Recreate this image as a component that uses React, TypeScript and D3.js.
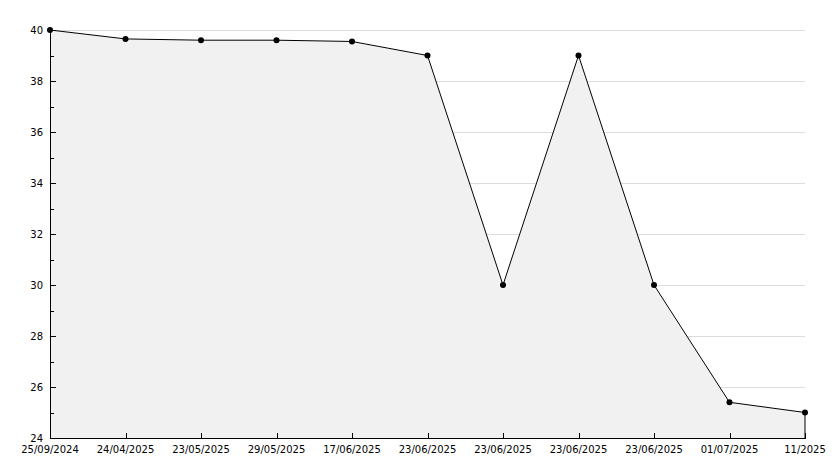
import React from "react";
import * as d3 from "d3";

const categories = [
  "25/09/2024", "24/04/2025", "23/05/2025", "29/05/2025", "17/06/2025",
  "23/06/2025", "23/06/2025", "23/06/2025", "23/06/2025", "01/07/2025", "11/2025",
];
const values = [40, 39.65, 39.6, 39.6, 39.55, 39, 30, 39, 30, 25.4, 25];
const yTicks = [24, 26, 28, 30, 32, 34, 36, 38, 40];
const yMinorTicks = [25, 27, 29, 31, 33, 35, 37, 39];

const W = 834;
const H = 468;
const left = 50;
const right = 805;
const top = 30;
const bottom = 438;

export default function App() {
  const idx = categories.map((_, i) => i);
  const x = d3.scalePoint<number>().domain(idx).range([left, right]);
  const y = d3.scaleLinear().domain([24, 40]).range([bottom, top]);

  const area = d3
    .area<number>()
    .x((_, i) => x(i)!)
    .y0(bottom)
    .y1((d) => y(d));
  const line = d3
    .line<number>()
    .x((_, i) => x(i)!)
    .y((d) => y(d));

  const font = "DejaVu Sans, sans-serif";

  return (
    <svg
      width={W}
      height={H}
      style={{ position: "fixed", left: 0, top: 0, background: "#fff" }}
    >
      {yTicks.map((t) => (
        <line
          key={"g" + t}
          x1={left}
          x2={right}
          y1={Math.round(y(t)) + 0.5}
          y2={Math.round(y(t)) + 0.5}
          stroke="#dcdcdc"
          strokeWidth={1}
        />
      ))}
      <path d={area(values) || ""} fill="#f1f1f1" />
      <line x1={right} x2={right} y1={y(values[values.length - 1])} y2={bottom} stroke="#000" />
      <path d={line(values) || ""} fill="none" stroke="#000" strokeWidth={1} />
      {values.map((v, i) => (
        <g key={"m" + i}>
          <circle cx={x(i)!} cy={y(v)} r={3} fill="#000" />
        </g>
      ))}
      {/* axes */}
      <line x1={left + 0.5} x2={left + 0.5} y1={top} y2={bottom + 1} stroke="#000" />
      <line x1={left} x2={right + 1} y1={bottom + 0.5} y2={bottom + 0.5} stroke="#000" />
      {yTicks.map((t) => (
        <g key={"yt" + t}>
          <line
            x1={left}
            x2={left + 6}
            y1={Math.round(y(t)) + 0.5}
            y2={Math.round(y(t)) + 0.5}
            stroke="#000"
          />
          <text
            x={43}
            y={y(t)}
            dy="0.35em"
            textAnchor="end"
            fontFamily={font}
            fontSize={10}
            fill="#000"
          >
            {t}
          </text>
        </g>
      ))}
      {yMinorTicks.map((t) => (
        <line
          key={"ym" + t}
          x1={left}
          x2={left + 4}
          y1={Math.round(y(t)) + 0.5}
          y2={Math.round(y(t)) + 0.5}
          stroke="#000"
        />
      ))}
      {idx.map((i) => (
        <g key={"xt" + i}>
          {i > 0 && (
            <line
              x1={Math.round(x(i)!) + 0.5}
              x2={Math.round(x(i)!) + 0.5}
              y1={bottom}
              y2={bottom - 5}
              stroke="#000"
            />
          )}
          <text
            x={x(i)!}
            y={453}
            textAnchor="middle"
            fontFamily={font}
            fontSize={10}
            fill="#000"
          >
            {categories[i]}
          </text>
        </g>
      ))}
    </svg>
  );
}
